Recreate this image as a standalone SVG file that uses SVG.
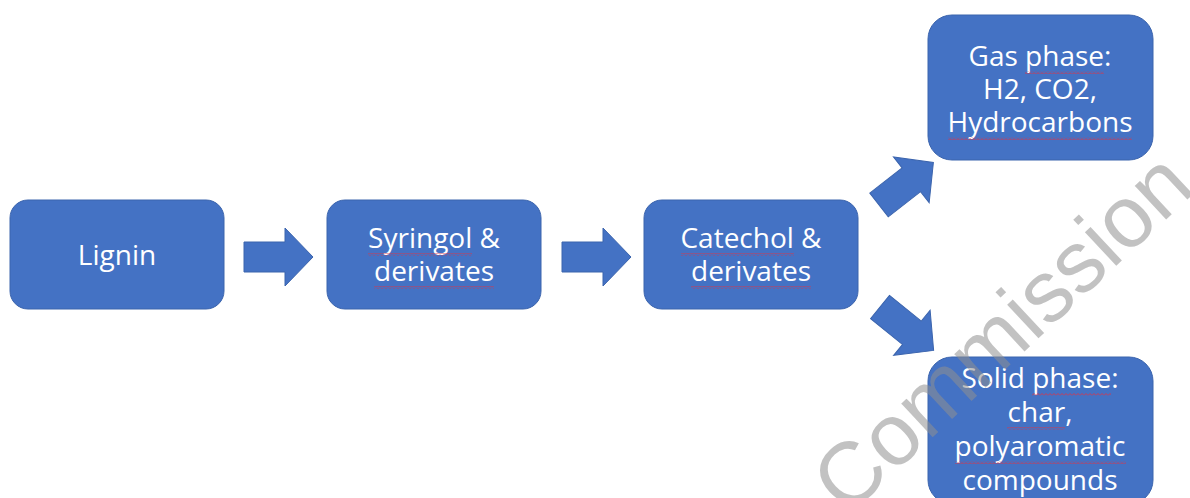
<svg xmlns="http://www.w3.org/2000/svg" width="1190" height="498" viewBox="0 0 1190 498">
  <style>
    .box { fill: #4472C4; stroke: #3B64AD; stroke-width: 1; }
    .arrow { fill: #4472C4; stroke: #3B64AD; stroke-width: 1; }
    .lbl { font-family: "Open Sans", "Noto Sans", sans-serif; font-size: 28px; fill: #FFFFFF; text-anchor: middle; }
    .sq { fill: url(#squiggle); }
    .wm { font-family: "Liberation Sans", Arial, sans-serif; font-size: 87px; fill: #8F8F8F; fill-opacity: 0.55; }
  </style>
  <defs>
    <!-- block arrow pointing right, origin at the middle of its tail -->
    <path id="blockArrow" d="M0,-15 L41,-15 L41,-29 L69,0 L41,29 L41,15 L0,15 Z"/>
    <!-- red wavy spell-check underline -->
    <pattern id="squiggle" patternUnits="userSpaceOnUse" width="4" height="3">
      <polyline points="0,2.5 2,0.5 4,2.5" fill="none" stroke="#D9344A" stroke-width="0.9"/>
    </pattern>
  </defs>

  <rect width="1190" height="498" fill="#FFFFFF"/>

  <g id="connectors">
    <use href="#blockArrow" class="arrow" transform="translate(244,257)"/>
    <use href="#blockArrow" class="arrow" transform="translate(562,257)"/>
    <use href="#blockArrow" class="arrow" transform="translate(879,205) rotate(-38)"/>
    <use href="#blockArrow" class="arrow" transform="translate(880,307) rotate(39)"/>
  </g>

  <g id="lignin">
    <rect class="box" x="10" y="200" width="214" height="109" rx="18"/>
    <text class="lbl" x="117" y="265">Lignin</text>
  </g>

  <g id="syringol">
    <rect class="box" x="327" y="200" width="214" height="109" rx="18"/>
    <text class="lbl" x="434" y="248">Syringol &amp;</text>
    <text class="lbl" x="434" y="281">derivates</text>
    <rect class="sq" x="368" y="253" width="104" height="3"/>
    <rect class="sq" x="374" y="286" width="120" height="3"/>
  </g>

  <g id="catechol">
    <rect class="box" x="644" y="200" width="214" height="109" rx="18"/>
    <text class="lbl" x="751" y="248">Catechol &amp;</text>
    <text class="lbl" x="751" y="281">derivates</text>
    <rect class="sq" x="681" y="253" width="113" height="3"/>
    <rect class="sq" x="691" y="286" width="120" height="3"/>
  </g>

  <g id="gas-phase">
    <rect class="box" x="928" y="15" width="225" height="145" rx="24"/>
    <text class="lbl" x="1040" y="66">Gas phase:</text>
    <text class="lbl" x="1040" y="99">H2, CO2,</text>
    <text class="lbl" x="1040" y="132">Hydrocarbons</text>
    <rect class="sq" x="1025" y="71" width="79" height="3"/>
    <rect class="sq" x="948" y="137" width="184" height="3"/>
  </g>

  <g id="solid-phase">
    <rect class="box" x="928" y="357" width="225" height="147" rx="24"/>
    <text class="lbl" x="1040" y="388">Solid phase:</text>
    <text class="lbl" x="1040" y="422">char,</text>
    <text class="lbl" x="1040" y="456">polyaromatic</text>
    <text class="lbl" x="1040" y="490">compounds</text>
    <rect class="sq" x="1032" y="393" width="79" height="3"/>
    <rect class="sq" x="1007" y="427" width="58" height="3"/>
    <rect class="sq" x="955" y="461" width="171" height="3"/>
  </g>

  <!-- diagonal watermark -->
  <text class="wm" transform="translate(847,517) rotate(-43)">Commission</text>
</svg>
